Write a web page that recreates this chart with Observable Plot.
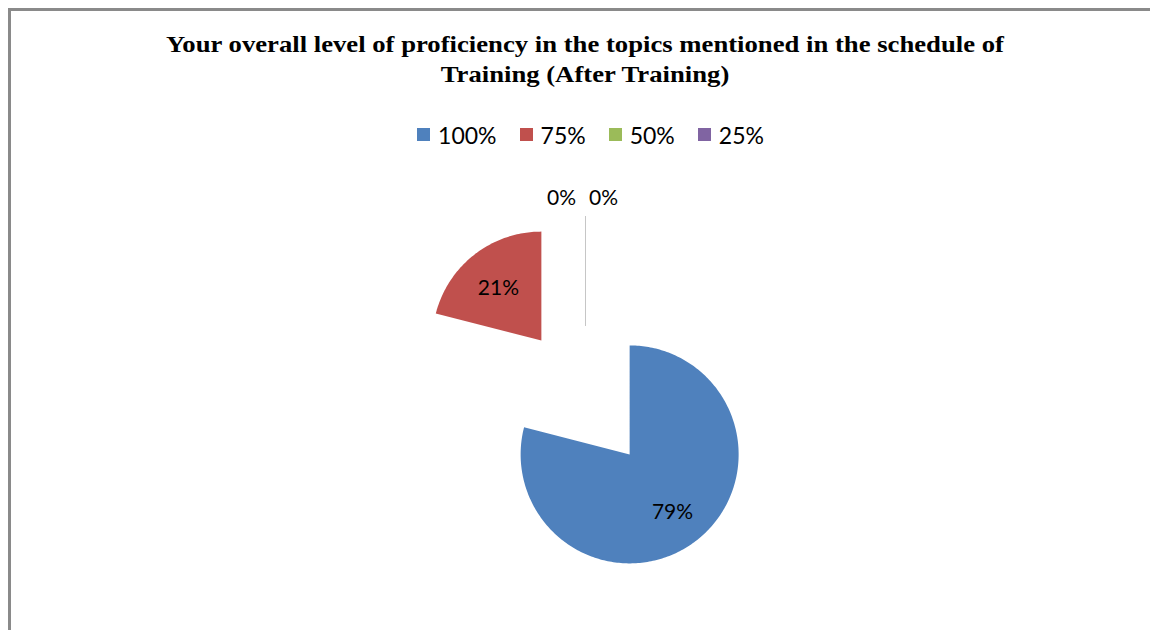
<!DOCTYPE html>
<html><head><meta charset="utf-8">
<script src="https://cdn.jsdelivr.net/npm/d3@7"></script>
<script src="https://cdn.jsdelivr.net/npm/@observablehq/plot@0.6"></script>
<style>
html,body{margin:0;padding:0;background:#fff;overflow:hidden;width:1150px;height:630px}
#frame{position:absolute;left:8px;top:8px;width:1160px;height:640px;border-left:3px solid #8a8a8a;border-top:3px solid #8a8a8a;}
#title{position:absolute;left:0;top:19px;width:1148px;text-align:center;font:bold 23px "Liberation Serif";line-height:30px;color:#000;transform:scaleX(1.16);transform-origin:574px 0}
#legend{position:absolute;left:17px;top:107px;width:1148px;display:flex;justify-content:center}
#legend svg{margin-right:8px !important}
#chart{position:absolute;left:0;top:146px}
</style></head><body>
<div id="frame">
<div id="title">Your overall level of proficiency in the topics mentioned in the schedule of<br>Training (After Training)</div>
<div id="legend"></div>
<div id="chart"></div>
</div>
<script>
const categories = ["100%", "75%", "50%", "25%"];
const shares = [79, 21, 0, 0];
const labels = ["79%", "21%", "0%", "0%"];
const colors = ["#4F81BD", "#C0504D", "#9BBB59", "#8064A2"];

const W = 1148, H = 473, CX = 574, CY = 240;
const R = 109, EXPLODE = 72, LABEL_R = 70;

const rows = categories.map((c, i) => ({cat: c, value: shares[i], label: labels[i]}));
const arcs = d3.pie().sort(null).value(d => d.value).startAngle(0).endAngle(2 * Math.PI)(rows);

const polys = [], zeroLines = [], labelPts = [];
let zeroIdx = 0;
const zeroCount = arcs.filter(a => a.data.value === 0).length;
arcs.forEach(a => {
  const mid = (a.startAngle + a.endAngle) / 2;
  const ox = Math.sin(mid) * EXPLODE, oy = -Math.cos(mid) * EXPLODE;
  if (a.data.value > 0) {
    polys.push({cat: a.data.cat, x: ox, y: oy});
    const n = Math.max(2, Math.ceil((a.endAngle - a.startAngle) / (Math.PI / 180)));
    for (let k = 0; k <= n; k++) {
      const t = a.startAngle + (a.endAngle - a.startAngle) * k / n;
      polys.push({cat: a.data.cat, x: ox + R * Math.sin(t), y: oy - R * Math.cos(t)});
    }
    labelPts.push({x: ox + LABEL_R * Math.sin(mid), y: oy - LABEL_R * Math.cos(mid), text: a.data.label});
  } else {
    zeroLines.push({cat: a.data.cat, x: ox, y: oy});
    zeroLines.push({cat: a.data.cat, x: ox + R * Math.sin(mid), y: oy - R * Math.cos(mid)});
    const spread = (zeroIdx - (zeroCount - 1) / 2) * 42 - 3;
    labelPts.push({x: ox + (R + 21) * Math.sin(mid) + spread, y: oy - (R + 21) * Math.cos(mid), text: a.data.label});
    zeroIdx++;
  }
});

const chart = Plot.plot({
  width: W, height: H, margin: 0,
  x: {domain: [-CX, W - CX], range: [0, W], axis: null},
  y: {domain: [-CY, H - CY], range: [0, H], axis: null},
  color: {domain: categories, range: colors},
  marks: [
    Plot.line(polys, {x: "x", y: "y", z: "cat", fill: "cat", stroke: "none", curve: "linear-closed"}),
    Plot.line(zeroLines, {x: "x", y: "y", z: "cat", stroke: "#c6c6c6", strokeWidth: 1}),
    Plot.text(labelPts, {x: "x", y: "y", text: "text", dy: 3, fontSize: 21, fontFamily: "Lato", fill: "#000"})
  ]
});
document.getElementById("chart").appendChild(chart);

const leg = Plot.legend({
  color: {type: "ordinal", domain: categories, range: colors},
  swatchSize: 13,
  style: {fontSize: "23px", fontFamily: "Lato", color: "#000"}
});
document.getElementById("legend").appendChild(leg);
</script>
</body></html>
